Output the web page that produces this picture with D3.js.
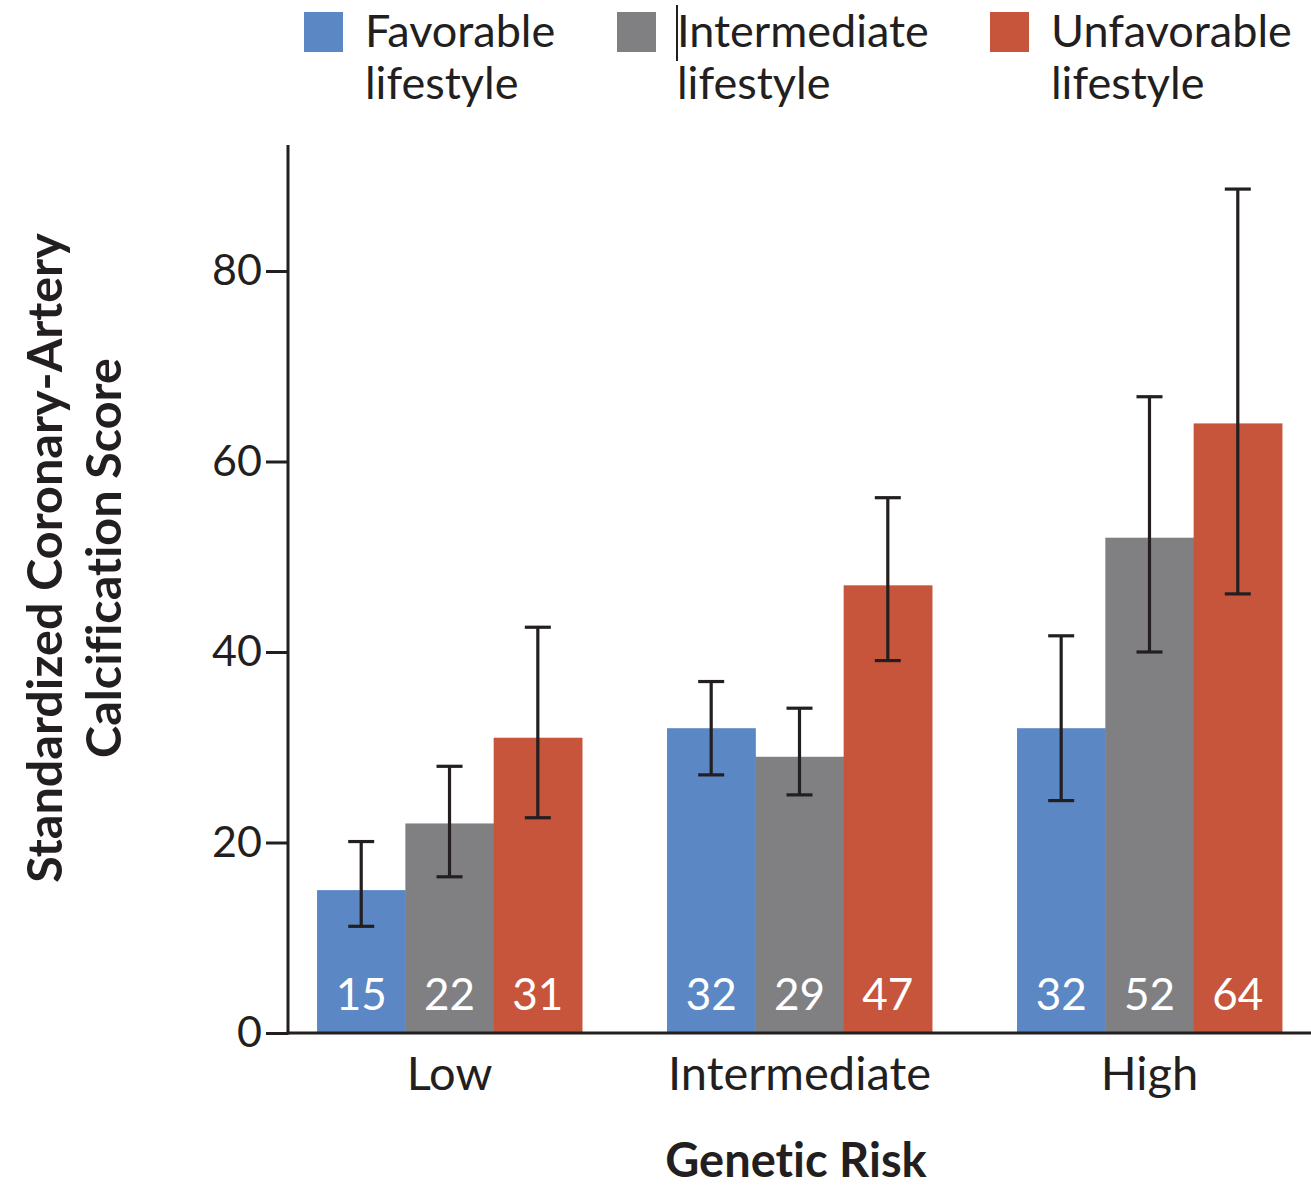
<!DOCTYPE html>
<html>
<head>
<meta charset="utf-8">
<script src="https://cdn.jsdelivr.net/npm/d3@7"></script>
<style>
  html, body { margin: 0; padding: 0; background: #fff; }
  svg { display: block; }
  text { font-family: Lato, "Open Sans", sans-serif; fill: #231f20; font-variant-ligatures: none; }
</style>
</head>
<body>
<svg id="chart" width="1311" height="1189"></svg>
<script>
// Genetic risk groups along the x axis
const groups = ["Low", "Intermediate", "High"];
// Lifestyle series
const series = ["Favorable", "Intermediate", "Unfavorable"];
const seriesLabels = [["Favorable", "lifestyle"], ["Intermediate", "lifestyle"], ["Unfavorable", "lifestyle"]];
const seriesColors = ["#5b87c4", "#808083", "#c6553b"];

// Standardized coronary-artery calcification score, one row per genetic risk group
const favorable   = [15, 32, 32];
const intermediate = [22, 29, 52];
const unfavorable = [31, 47, 64];
// 95% confidence interval bounds
const favorableLow    = [11.2, 27.1, 24.4];
const favorableHigh   = [20.1, 36.9, 41.7];
const intermediateLow  = [16.4, 25.0, 40.0];
const intermediateHigh = [28.0, 34.1, 66.8];
const unfavorableLow  = [22.6, 39.1, 46.1];
const unfavorableHigh = [42.6, 56.2, 88.6];

const yTicks = [0, 20, 40, 60, 80];

const values = [favorable, intermediate, unfavorable];
const lows = [favorableLow, intermediateLow, unfavorableLow];
const highs = [favorableHigh, intermediateHigh, unfavorableHigh];

const rows = [];
groups.forEach((g, gi) => {
  series.forEach((s, si) => {
    rows.push({ group: g, series: s, si, value: values[si][gi], lo: lows[si][gi], hi: highs[si][gi] });
  });
});

const svg = d3.select("#chart");
const axisX = 288, baseY = 1033;

const x0 = d3.scaleBand().domain(groups).range([axisX, 1311]).paddingInner(0.243).paddingOuter(0.083);
const x1 = d3.scaleBand().domain(series).range([0, x0.bandwidth()]).padding(0);
const y = d3.scaleLinear().domain([0, 80]).range([baseY, 271]);
const cx = d => x0(d.group) + x1(d.series) + x1.bandwidth() / 2;

// Bars
const g = svg.append("g");
g.selectAll("rect.bar").data(rows).join("rect")
  .attr("class", "bar")
  .attr("x", d => x0(d.group) + x1(d.series))
  .attr("y", d => y(d.value))
  .attr("width", x1.bandwidth() + 0.5)
  .attr("height", d => y(0) - y(d.value))
  .attr("fill", d => seriesColors[d.si]);

// Value labels inside the bars
g.selectAll("text.val").data(rows).join("text")
  .attr("class", "val")
  .attr("x", cx)
  .attr("y", 1010)
  .attr("text-anchor", "middle")
  .style("font-size", "44px")
  .style("fill", "#fff")
  .text(d => d.value);

// Error bars
const capW = 26;
const eb = g.selectAll("g.err").data(rows).join("g").attr("class", "err")
  .attr("stroke", "#231f20").attr("stroke-width", 3.2).attr("fill", "none");
eb.append("line")
  .attr("x1", cx).attr("x2", cx)
  .attr("y1", d => y(d.lo)).attr("y2", d => y(d.hi));
eb.append("line")
  .attr("x1", d => cx(d) - capW / 2).attr("x2", d => cx(d) + capW / 2)
  .attr("y1", d => y(d.hi)).attr("y2", d => y(d.hi));
eb.append("line")
  .attr("x1", d => cx(d) - capW / 2).attr("x2", d => cx(d) + capW / 2)
  .attr("y1", d => y(d.lo)).attr("y2", d => y(d.lo));

// Y axis
const yAxis = svg.append("g").attr("transform", `translate(${axisX},0)`)
  .call(d3.axisLeft(y).tickValues(yTicks).tickSize(22).tickPadding(4).tickFormat(d3.format("d")));
yAxis.select(".domain").remove();
yAxis.selectAll(".tick line").attr("stroke", "#231f20").attr("stroke-width", 3);
yAxis.selectAll(".tick text").style("font-size", "43px").style("font-family", "Lato, sans-serif").attr("fill", "#231f20");
svg.append("line").attr("x1", axisX).attr("x2", axisX).attr("y1", 145).attr("y2", baseY + 1.5)
  .attr("stroke", "#231f20").attr("stroke-width", 3);

// X axis
svg.append("line").attr("x1", axisX - 1.5).attr("x2", 1311).attr("y1", baseY).attr("y2", baseY)
  .attr("stroke", "#231f20").attr("stroke-width", 3);
const xAxis = svg.append("g").attr("transform", `translate(0,${baseY})`)
  .call(d3.axisBottom(x0).tickSize(0).tickPadding(24));
xAxis.select(".domain").remove();
xAxis.selectAll(".tick text").style("font-size", "47px").style("font-family", "Lato, sans-serif").attr("fill", "#231f20");

// Axis titles
svg.append("text").attr("x", 796).attr("y", 1177).attr("text-anchor", "middle")
  .style("font-size", "47px").style("font-weight", "bold").text("Genetic Risk");
const yt = svg.append("text").attr("transform", "translate(0,558) rotate(-90)")
  .attr("text-anchor", "middle").style("font-size", "48.5px").style("font-weight", "bold");
yt.append("tspan").attr("x", 0).attr("y", 62).text("Standardized Coronary-Artery");
yt.append("tspan").attr("x", 0).attr("y", 121).text("Calcification Score");

// Legend
const legendX = [304, 617, 990];
const lg = svg.selectAll("g.leg").data(series).join("g").attr("class", "leg")
  .attr("transform", (d, i) => `translate(${legendX[i]},0)`);
lg.append("rect").attr("x", 0).attr("y", 12).attr("width", 39).attr("height", 40)
  .attr("fill", (d, i) => seriesColors[i]);
lg.append("text").attr("x", (d, i) => i === 1 ? 60 : 61).attr("y", 47)
  .style("font-size", "45px").text((d, i) => seriesLabels[i][0]);
lg.append("text").attr("x", (d, i) => i === 1 ? 60 : 61).attr("y", 99)
  .style("font-size", "45px").text((d, i) => seriesLabels[i][1]);
// text cursor mark before the middle legend entry
svg.append("line").attr("x1", 677).attr("x2", 677).attr("y1", 5).attr("y2", 61)
  .attr("stroke", "#231f20").attr("stroke-width", 2);
</script>
</body>
</html>
